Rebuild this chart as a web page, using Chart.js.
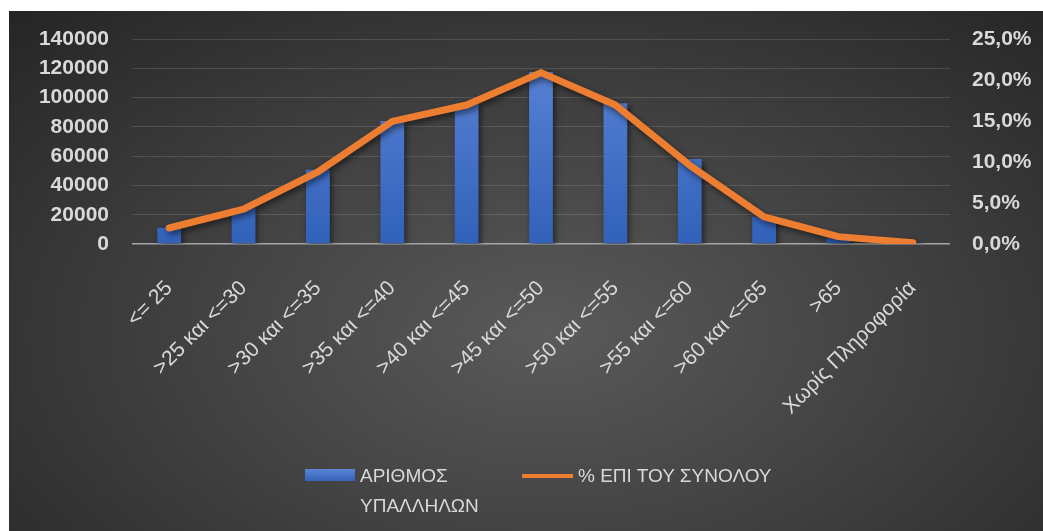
<!DOCTYPE html>
<html>
<head>
<meta charset="utf-8">
<script src="https://cdn.jsdelivr.net/npm/chart.js@4.4.1/dist/chart.umd.min.js"></script>
<style>
  html, body { margin: 0; padding: 0; background: #ffffff; }
  #frame {
    position: absolute; left: 9px; top: 11px; width: 1034px; height: 520px; overflow: hidden;
    background: radial-gradient(ellipse farthest-corner at 52% 62%, #5a5a5a 0%, #3d3d3d 55%, #252525 100%);
  }
  #frame canvas { position: absolute; left: 0; top: 0; }
  .lg-item { position: absolute; color: #d9d9d9; font-family: 'Liberation Sans', Arial, sans-serif; font-size: 19px; line-height: 30px; }
  .lg-box { position: absolute; left: 296px; top: 458px; width: 50px; height: 12px; background: linear-gradient(#5b85d6, #3462b8); }
  .lg-line { position: absolute; left: 513px; top: 463px; width: 51px; height: 4px; background: #ed7d31; }
</style>
</head>
<body>
<div id="frame">
  <canvas id="ageChart" width="1034" height="520"></canvas>
  <div class="lg-box"></div>
  <div class="lg-item" style="left:351px; top:450px;">ΑΡΙΘΜΟΣ<br>ΥΠΑΛΛΗΛΩΝ</div>
  <div class="lg-line"></div>
  <div class="lg-item" style="left:569px; top:450px;">% ΕΠΙ ΤΟΥ ΣΥΝΟΛΟΥ</div>
</div>
<script>
// ---- data ----
const categories = ['<= 25', '>25 και <=30', '>30 και <=35', '>35 και <=40', '>40 και <=45',
  '>45 και <=50', '>50 και <=55', '>55 και <=60', '>60 και <=65', '>65', 'Χωρίς Πληροφορία'];
const employees = [11100, 24400, 50700, 84000, 95800, 117400, 96200, 58000, 18700, 3900, 300];
const percentOfTotal = [1.95, 4.25, 8.8, 14.95, 16.95, 20.9, 16.95, 9.6, 3.3, 0.9, 0.15];
const countTicks = [0, 20000, 40000, 60000, 80000, 100000, 120000, 140000];
const percentTicks = [0, 5, 10, 15, 20, 25];

const labelColor = '#d9d9d9';
const fontFamily = "'Liberation Sans', Arial, sans-serif";

// soft drop shadow under bars and line, like the office chart style
const shadowPlugin = {
  id: 'shadow',
  beforeDatasetDraw(chart) {
    const ctx = chart.ctx;
    ctx.save();
    ctx.shadowColor = 'rgba(0, 0, 0, 0.55)';
    ctx.shadowBlur = 6;
    ctx.shadowOffsetX = 2;
    ctx.shadowOffsetY = 3;
  },
  afterDatasetDraw(chart) {
    chart.ctx.restore();
  }
};

function barGradient(context) {
  const area = context.chart.chartArea;
  if (!area) return '#4472c4';
  const g = context.chart.ctx.createLinearGradient(0, area.top, 0, area.bottom);
  g.addColorStop(0, '#5d87d8');
  g.addColorStop(1, '#3161b9');
  return g;
}

// fixed axis boxes so the plot area lands where the reference has it
function fixWidth(w) {
  return scale => {
    scale.width = w;
    scale.paddingTop = 0;
    scale.paddingBottom = 0;
  };
}

new Chart(document.getElementById('ageChart'), {
  data: {
    labels: categories,
    datasets: [{
      type: 'line',
      label: '% ΕΠΙ ΤΟΥ ΣΥΝΟΛΟΥ',
      data: percentOfTotal,
      yAxisID: 'y1',
      borderColor: '#ed7d31',
      borderWidth: 7,
      pointRadius: 0,
      tension: 0,
      borderJoinStyle: 'round',
      borderCapStyle: 'round',
      order: 0
    }, {
      type: 'bar',
      label: 'ΑΡΙΘΜΟΣ ΥΠΑΛΛΗΛΩΝ',
      data: employees,
      yAxisID: 'y',
      backgroundColor: barGradient,
      barPercentage: 0.32,
      categoryPercentage: 1,
      order: 1
    }]
  },
  options: {
    responsive: false,
    animation: false,
    devicePixelRatio: 1,
    layout: { padding: { top: 28, left: 0, right: 0, bottom: 0 } },
    plugins: {
      legend: { display: false },
      tooltip: { enabled: false }
    },
    scales: {
      x: {
        grid: { display: false },
        border: { display: false },
        ticks: {
          color: labelColor,
          font: { family: fontFamily, size: 21 },
          maxRotation: 45,
          minRotation: 45,
          autoSkip: false,
          padding: 24
        },
        afterFit(scale) { scale.height = 287; }
      },
      y: {
        position: 'left',
        min: 0,
        max: 140000,
        afterBuildTicks(scale) { scale.ticks = countTicks.map(v => ({ value: v })); },
        ticks: {
          color: labelColor,
          font: { family: fontFamily, size: 21, weight: 'bold' },
          padding: 23,
          autoSkip: false,
          callback: v => String(v)
        },
        grid: {
          drawTicks: false,
          color: ctx => ctx.tick && ctx.tick.value === 0 ? '#a6a6a6' : 'rgba(255, 255, 255, 0.13)',
          lineWidth: ctx => ctx.tick && ctx.tick.value === 0 ? 1.5 : 1
        },
        border: { display: false },
        afterFit: fixWidth(123)
      },
      y1: {
        position: 'right',
        min: 0,
        max: 25,
        afterBuildTicks(scale) { scale.ticks = percentTicks.map(v => ({ value: v })); },
        ticks: {
          color: labelColor,
          font: { family: fontFamily, size: 21, weight: 'bold' },
          padding: 22,
          autoSkip: false,
          callback: v => v.toFixed(1).replace('.', ',') + '%'
        },
        grid: { display: false, drawTicks: false },
        border: { display: false },
        afterFit: fixWidth(93)
      }
    }
  },
  plugins: [shadowPlugin]
});
</script>
</body>
</html>
